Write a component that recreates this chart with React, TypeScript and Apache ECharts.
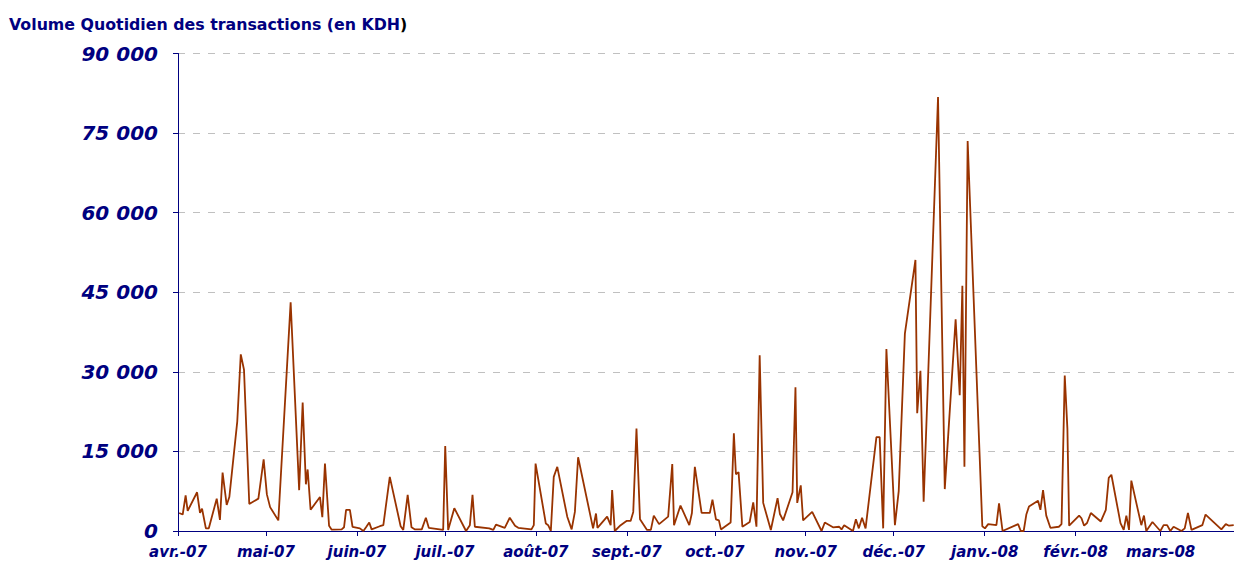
import React, { useEffect, useRef } from "react";
import * as echarts from "echarts";

// ---- Data ----
const titleMain = "Volume Quotidien des transactions (en KDH";
const titleEnd = ")";

const monthTicks = [
  "2007-04-01", "2007-05-01", "2007-06-01", "2007-07-01", "2007-08-01", "2007-09-01",
  "2007-10-01", "2007-11-01", "2007-12-01", "2008-01-01", "2008-02-01", "2008-03-01",
];
const monthLabels = [
  "avr.-07", "mai-07", "juin-07", "juil.-07", "août-07", "sept.-07",
  "oct.-07", "nov.-07", "déc.-07", "janv.-08", "févr.-08", "mars-08",
];
const startDate = "2007-04-01";
const endDate = "2008-03-26";

// days elapsed since 1 April 2007
const dayOffsets = [
  0.4, 1.6, 2.6, 3.3, 6.5, 7.5, 8.2, 9.5, 10.5, 13.2, 14.3, 15.2, 16.6, 17.5, 20.2, 21.4, 22.5, 24.3, 27.4, 29.2,
  30.3, 31.4, 34.2, 38.4, 41.3, 42.5, 43.6, 44.2, 45.2, 48.4, 49.2, 50.1, 51.5, 52.4,
  55.8, 56.6, 57.3, 58.6, 59.5, 62.0, 63.2, 64.1, 65.2, 66.0, 68.8, 70.0, 72.2, 75.9, 76.8, 78.3, 79.6, 80.8, 83.1, 84.5,
  85.5, 90.4, 91.1, 92.1, 94.2, 98.2, 99.5, 100.4, 101.2, 106.1, 107.5, 108.4,
  111.4, 113.1, 114.9, 116.0, 120.5, 121.3, 121.9, 125.4, 126.2, 127.1, 128.1, 129.3, 132.7, 134.2, 135.3, 136.4, 141.5, 142.5, 143.0, 146.3,
  147.5, 148.0, 148.9, 150.9, 152.9, 154.3, 155.2, 156.3, 157.5, 159.9, 161.2,
  162.2, 164.0, 167.1, 168.5, 169.1, 171.3, 174.3, 175.2, 176.2, 178.5, 181.3, 182.2, 183.4, 184.4, 185.1, 188.4, 189.5, 190.2, 191.1, 192.4,
  194.9, 196.1, 197.2, 198.3, 199.5, 202.1, 204.4, 205.2, 206.3, 209.5, 210.5, 211.1, 212.3, 213.1, 216.2,
  219.4, 220.5, 223.3, 225.4, 226.2, 227.1, 230.1, 231.1, 232.1, 233.2, 234.4, 238.1, 239.2, 240.4, 241.5, 244.4,
  245.7, 247.8, 251.4, 252.0, 253.1, 254.2, 259.1, 261.4, 265.1, 266.5, 267.4, 268.1, 269.2, 274.2, 275.1, 276.2, 279.0, 279.9,
  281.1, 286.4, 287.3, 288.3, 289.2, 290.1, 293.2, 294.0, 294.9, 296.0, 297.4, 300.3, 301.2, 302.3, 303.2, 303.8, 307.2, 308.0, 308.9, 309.9,
  311.2, 314.6, 316.3, 317.3, 318.2, 321.3, 322.4, 323.3, 324.2, 325.0, 328.4, 329.3, 330.1, 332.2, 334.9, 336.0, 337.2, 338.3, 339.4, 342.1,
  343.2, 344.3, 345.5, 349.2, 350.3, 355.7, 357.2, 358.3, 359.9,
];

// daily volume in KDH
const volumes = [
  3400, 3100, 6700, 3800, 7300, 3400, 4200, 500, 500, 6100, 2100, 11000, 4900, 6400, 20600, 33300, 30400, 5100, 6100, 13500,
  6900, 4500, 2000, 43100, 7700, 24200, 8800, 11600, 4000, 6400, 2600, 12700, 1000, 250,
  300, 700, 4000, 4000, 800, 500, 0, 700, 1600, 300, 900, 1100, 10200, 900, 200, 6800, 700, 300, 300, 2500,
  600, 200, 16000, 200, 4300, 0, 1100, 6800, 800, 500, 200, 1200,
  600, 2500, 1000, 600, 300, 1100, 12700, 1400, 1100, 0, 10200, 12100, 2700, 300, 3600, 13900, 500, 3300, 600, 2700,
  1100, 7700, 0, 1100, 1900, 1900, 3600, 19300, 2200, 200, 200,
  2900, 1300, 2700, 12600, 1100, 4800, 1100, 3400, 12100, 3400, 3400, 5900, 2200, 2000, 300, 1600, 18400, 10700, 11100, 800,
  1700, 5400, 800, 33100, 5300, 200, 6200, 3200, 2000, 7300, 27100, 5300, 8600, 2000, 3600,
  0, 1600, 700, 800, 300, 1100, 0, 2200, 500, 2500, 500, 17700, 17700, 500, 34300, 1100,
  7500, 37200, 51100, 22200, 30200, 5500, 81800, 7900, 39900, 25600, 46200, 12100, 73500, 900, 500, 1300, 1100, 5200,
  0, 1300, 0, 0, 3100, 4600, 5700, 4000, 7700, 2900, 600, 800, 1300, 29300, 19300, 1000, 2900, 2400, 1000, 1500,
  3400, 1800, 4000, 10000, 10600, 1500, 200, 2900, 200, 9500, 1100, 2900, 0, 1700, 0, 1100, 1100, 0, 800, 0,
  500, 3400, 200, 1100, 3100, 300, 1300, 1000, 1100,
];

const NAVY = "#000080";
const FONT = "'DejaVu Sans', Verdana, sans-serif";
const DAY = 86400000;

function dayIndex(s: string): number {
  const [y, m, d] = s.split("-").map(Number);
  const [y0, m0, d0] = startDate.split("-").map(Number);
  return Math.round((Date.UTC(y, m - 1, d) - Date.UTC(y0, m0 - 1, d0)) / DAY);
}

function fmtThousands(v: number): string {
  return String(v).replace(/\B(?=(\d{3})+(?!\d))/g, " ");
}

export default function App() {
  const ref = useRef<HTMLDivElement>(null);

  useEffect(() => {
    if (!ref.current) return;
    const chart = echarts.init(ref.current, undefined, { renderer: "svg" });
    const tickVals = monthTicks.map(dayIndex);
    const data = dayOffsets.map((d, i) => [d, volumes[i]]);

    chart.setOption({
      animation: false,
      backgroundColor: "#ffffff",
      title: {
        text: `{a|${titleMain}}{b|${titleEnd}}`,
        left: 9,
        top: 16,
        padding: 0,
        textStyle: {
          rich: {
            a: { fontFamily: FONT, fontSize: 15.8, fontWeight: "bold", color: NAVY },
            b: { fontFamily: FONT, fontSize: 15.8, fontWeight: "bold", color: "#000000" },
          },
        },
      },
      grid: {
        left: 178,
        right: 0,
        top: 53.5,
        bottom: 30,
        containLabel: false,
        outerBoundsMode: "none",
      },
      xAxis: {
        type: "value",
        min: 0,
        max: dayIndex(endDate),
        axisLine: { show: true, lineStyle: { color: NAVY, width: 1 } },
        axisTick: {
          show: true,
          length: 5,
          customValues: tickVals,
          lineStyle: { color: NAVY, width: 1 },
        },
        minorTick: { show: false },
        axisLabel: {
          customValues: tickVals,
          formatter: (v: number) => {
            const idx = tickVals.indexOf(Math.round(v));
            return idx >= 0 ? monthLabels[idx] : "";
          },
          color: NAVY,
          fontFamily: FONT,
          fontSize: 15,
          fontWeight: "bold",
          fontStyle: "italic",
          margin: 13,
          hideOverlap: false,
        },
        splitLine: { show: false },
      },
      yAxis: {
        type: "value",
        min: 0,
        max: 90000,
        interval: 15000,
        axisLine: { show: true, lineStyle: { color: NAVY, width: 1 } },
        axisTick: { show: true, length: 5, lineStyle: { color: NAVY, width: 1 } },
        axisLabel: {
          formatter: (v: number) => fmtThousands(v),
          color: NAVY,
          fontFamily: FONT,
          fontSize: 20,
          fontWeight: "bold",
          fontStyle: "italic",
          margin: 20,
        },
        splitLine: {
          show: true,
          lineStyle: { color: "#c0c0c0", width: 1, type: [7, 8] },
        },
      },
      series: [
        {
          type: "line",
          data,
          showSymbol: false,
          symbol: "none",
          lineStyle: { color: "#993300", width: 1.8 },
          itemStyle: { color: "#993300" },
        },
      ],
    });

    return () => {
      chart.dispose();
    };
  }, []);

  return (
    <div
      ref={ref}
      style={{ position: "absolute", left: 0, top: 0, width: 1234, height: 561 }}
    />
  );
}
